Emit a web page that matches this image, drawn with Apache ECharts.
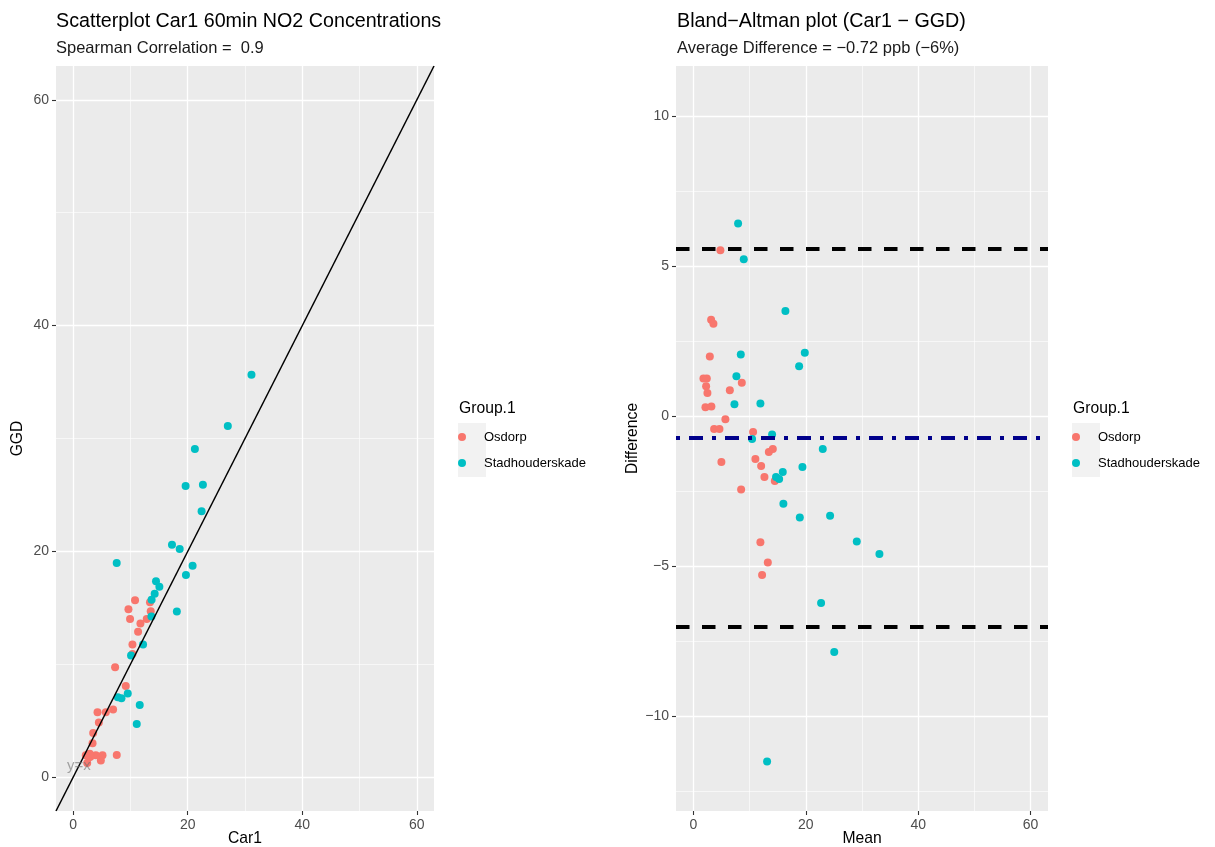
<!DOCTYPE html>
<html>
<head>
<meta charset="utf-8">
<script src="https://cdn.jsdelivr.net/npm/echarts@6/dist/echarts.min.js"></script>
<style>
  html, body { margin: 0; padding: 0; background: #ffffff; }
  #chart { width: 1215px; height: 847px; }
</style>
</head>
<body>
<div id="chart"></div>
<script>
// Car1 vs GGD hourly NO2 (ppb), split by site
const groups = ['Osdorp', 'Stadhouderskade'];
const groupColors = ['#F8766D', '#00BFC4'];

// Scatter panel values
const car1Osdorp = [7.61, 4.83, 5.12, 3.95, 2.45, 3.0, 2.76, 2.88, 9.18, 6.97, 2.2, 3.38, 5.7, 3.49, 4.48, 10.35, 13.54, 12.84, 4.25, 10.35, 11.33, 11.74, 13.41, 7.32, 9.93, 10.8, 9.65];
const ggdOsdorp  = [1.96, 1.48, 1.93, 1.93, 1.25, 1.8, 1.76, 2.07, 8.08, 6.0, 1.95, 3.0, 5.74, 3.9, 4.85, 10.9, 14.7, 14.02, 5.74, 11.75, 12.87, 13.61, 15.5, 9.73, 14.02, 15.68, 14.88];
const car1Stad = [11.1, 11.62, 18.1, 9.53, 20.85, 19.69, 8.43, 7.79, 12.2, 13.66, 10.1, 22.42, 18.6, 15.05, 13.69, 14.23, 14.46, 17.25, 22.65, 27.0, 31.13, 19.63, 21.25, 7.6];
const ggdStad  = [4.7, 6.39, 14.67, 7.4, 18.72, 17.9, 6.98, 7.07, 11.75, 14.23, 10.77, 23.55, 20.2, 16.86, 15.71, 16.24, 17.36, 20.59, 25.9, 31.1, 35.64, 25.8, 29.08, 18.96];

// Bland-Altman panel values
const meanOsdorp = [4.8, 3.15, 3.56, 2.92, 1.78, 2.38, 2.26, 2.49, 8.61, 6.48, 2.14, 3.2, 5.69, 3.68, 4.63, 10.62, 14.13, 13.42, 4.98, 11.03, 12.05, 12.64, 14.48, 8.49, 11.92, 13.24, 12.22];
const diffOsdorp = [5.53, 3.22, 3.08, 1.99, 1.26, 1.26, 1.0, 0.78, 1.12, 0.87, 0.3, 0.33, -0.1, -0.42, -0.42, -0.52, -1.09, -1.19, -1.52, -1.42, -1.66, -2.02, -2.16, -2.44, -4.2, -4.87, -5.29];
const meanStad = [7.95, 8.96, 16.37, 8.43, 19.82, 18.81, 7.65, 7.3, 11.92, 14.0, 10.44, 23.02, 19.4, 15.9, 14.7, 15.25, 16.01, 18.93, 24.32, 29.07, 33.1, 22.72, 25.06, 13.11];
const diffStad = [6.42, 5.23, 3.51, 2.06, 2.12, 1.67, 1.33, 0.4, 0.43, -0.61, -0.76, -1.09, -1.69, -1.86, -2.02, -2.09, -2.91, -3.37, -3.31, -4.17, -4.59, -6.22, -7.85, -11.5];

// Reference lines of the Bland-Altman panel
const meanDifference = -0.72;
const upperLimit = 5.57;
const lowerLimit = -7.01;

// Axis ranges and tick labels
const scatterRange = [-3, 63];
const baMeanRange = [-3.1, 63.1];
const baDiffRange = [-13.15, 11.67];
const xTicks = [0, 20, 40, 60];
const xMinor = [10, 30, 50];
const yTicksScatter = [0, 20, 40, 60];
const yMinorScatter = [10, 30, 50];
const yTicksBA = [-10, -5, 0, 5, 10];
const yMinorBA = [-12.5, -7.5, -2.5, 2.5, 7.5];

const FONT = '"Liberation Sans", Arial, Helvetica, sans-serif';
const zip = (a, b) => a.map((v, i) => [v, b[i]]);
const minus = v => String(v).replace('-', '\u2212');

function majorAxis(gridIndex, range, ticks, extra) {
  return Object.assign({
    type: 'value', gridIndex, min: range[0], max: range[1],
    axisLine: { show: false, onZero: false },
    axisTick: { show: true, customValues: ticks, length: 4, lineStyle: { color: '#333333', width: 1.1 } },
    axisLabel: { customValues: ticks, color: '#4D4D4D', fontSize: 14, fontFamily: FONT, margin: 7, formatter: minus },
    splitLine: { show: true, lineStyle: { color: '#FFFFFF', width: 1.3 } },
    nameTextStyle: { color: '#000000', fontSize: 15.7, fontFamily: FONT },
    nameLocation: 'middle', nameMoveOverlap: false, z: 1
  }, extra || {});
}
function minorAxis(gridIndex, range, ticks) {
  return {
    type: 'value', gridIndex, min: range[0], max: range[1],
    axisLine: { show: false, onZero: false },
    axisTick: { show: false, customValues: ticks },
    axisLabel: { show: false, customValues: ticks },
    splitLine: { show: true, lineStyle: { color: '#FFFFFF', width: 0.6 } },
    z: 0
  };
}

const chart = echarts.init(document.getElementById('chart'), null, { renderer: 'canvas' });

const titleStyle = { color: '#000000', fontSize: 19.7, fontFamily: FONT, fontWeight: 'normal', lineHeight: 20 };
const subStyle = { color: '#1A1A1A', fontSize: 16.5, fontFamily: FONT, lineHeight: 17 };
const legendTitleStyle = { color: '#000000', fontSize: 15.7, fontFamily: FONT, fontWeight: 'normal', lineHeight: 16 };

function legendAt(left) {
  return {
    data: groups, orient: 'vertical', left, top: 430, padding: 0,
    icon: 'circle', itemWidth: 28, itemHeight: 8, itemGap: 12,
    textStyle: { color: '#000000', fontSize: 13, fontFamily: FONT, lineHeight: 14, padding: [0, 0, 0, 3] },
    selectedMode: false
  };
}

const option = {
  backgroundColor: '#FFFFFF',
  animation: false,
  title: [
    { text: 'Scatterplot Car1 60min NO2 Concentrations', subtext: 'Spearman Correlation =  0.9',
      left: 56, top: 12, padding: 0, itemGap: 7.5, textStyle: titleStyle, subtextStyle: subStyle },
    { text: 'Bland\u2212Altman plot (Car1 \u2212 GGD)', subtext: 'Average Difference = \u22120.72 ppb (\u22126%)',
      left: 677, top: 12, padding: 0, itemGap: 7.5, textStyle: titleStyle, subtextStyle: subStyle },
    { text: 'Group.1', left: 459, top: 401, padding: 0, textStyle: legendTitleStyle },
    { text: 'Group.1', left: 1073, top: 401, padding: 0, textStyle: legendTitleStyle }
  ],
  legend: [legendAt(458), legendAt(1072)],
  graphic: [
    { type: 'rect', left: 458, top: 423, z: -1, shape: { width: 28, height: 54 }, style: { fill: '#F2F2F2' }, silent: true },
    { type: 'rect', left: 1072, top: 423, z: -1, shape: { width: 28, height: 54 }, style: { fill: '#F2F2F2' }, silent: true }
  ],
  grid: [
    { left: 56, top: 66, width: 378, height: 745, show: true, backgroundColor: '#EBEBEB', borderWidth: 0,
      outerBoundsMode: 'none', containLabel: false },
    { left: 676, top: 66, width: 372, height: 745, show: true, backgroundColor: '#EBEBEB', borderWidth: 0,
      outerBoundsMode: 'none', containLabel: false }
  ],
  xAxis: [
    majorAxis(0, scatterRange, xTicks, { name: 'Car1', nameGap: 20 }),
    minorAxis(0, scatterRange, xMinor),
    majorAxis(1, baMeanRange, xTicks, { name: 'Mean', nameGap: 20 }),
    minorAxis(1, baMeanRange, xMinor)
  ],
  yAxis: [
    majorAxis(0, scatterRange, yTicksScatter, { name: 'GGD', nameGap: 30 }),
    minorAxis(0, scatterRange, yMinorScatter),
    majorAxis(1, baDiffRange, yTicksBA, { name: 'Difference', nameGap: 35 }),
    minorAxis(1, baDiffRange, yMinorBA)
  ],
  series: [
    { name: groups[0], type: 'scatter', xAxisIndex: 0, yAxisIndex: 0, z: 3,
      symbolSize: 8, itemStyle: { color: groupColors[0], opacity: 1 }, data: zip(car1Osdorp, ggdOsdorp) },
    { name: groups[1], type: 'scatter', xAxisIndex: 0, yAxisIndex: 0, z: 3,
      symbolSize: 8, itemStyle: { color: groupColors[1], opacity: 1 }, data: zip(car1Stad, ggdStad) },
    // identity line across the whole scatter panel
    { name: 'identity', type: 'line', xAxisIndex: 0, yAxisIndex: 0, z: 4, silent: true,
      symbol: 'none', clip: true, lineStyle: { color: '#000000', width: 1.5 },
      data: [[scatterRange[0], scatterRange[0]], [scatterRange[1], scatterRange[1]]] },
    { name: 'identityLabel', type: 'scatter', xAxisIndex: 0, yAxisIndex: 0, z: 5, silent: true,
      symbolSize: 1, itemStyle: { color: 'rgba(0,0,0,0)' },
      label: { show: true, position: 'inside', formatter: 'y=x', color: 'rgba(110,110,110,0.75)', fontSize: 15, fontFamily: FONT },
      data: [[1, 1]] },
    // Bland-Altman limits and mean difference
    { name: 'limits', type: 'line', xAxisIndex: 2, yAxisIndex: 2, z: 2, silent: true, data: [],
      markLine: {
        silent: true, symbol: 'none', label: { show: false },
        data: [
          { yAxis: upperLimit, lineStyle: { color: '#000000', width: 4, type: [13.5, 12.5], cap: 'butt' } },
          { yAxis: lowerLimit, lineStyle: { color: '#000000', width: 4, type: [13.5, 12.5], cap: 'butt' } },
          { yAxis: meanDifference, lineStyle: { color: '#00008B', width: 4, type: [14, 9, 4, 9], dashOffset: 23, cap: 'butt' } }
        ]
      } },
    { name: groups[0], type: 'scatter', xAxisIndex: 2, yAxisIndex: 2, z: 3,
      symbolSize: 8, itemStyle: { color: groupColors[0], opacity: 1 }, data: zip(meanOsdorp, diffOsdorp) },
    { name: groups[1], type: 'scatter', xAxisIndex: 2, yAxisIndex: 2, z: 3,
      symbolSize: 8, itemStyle: { color: groupColors[1], opacity: 1 }, data: zip(meanStad, diffStad) }
  ]
};

chart.setOption(option);
</script>
</body>
</html>
